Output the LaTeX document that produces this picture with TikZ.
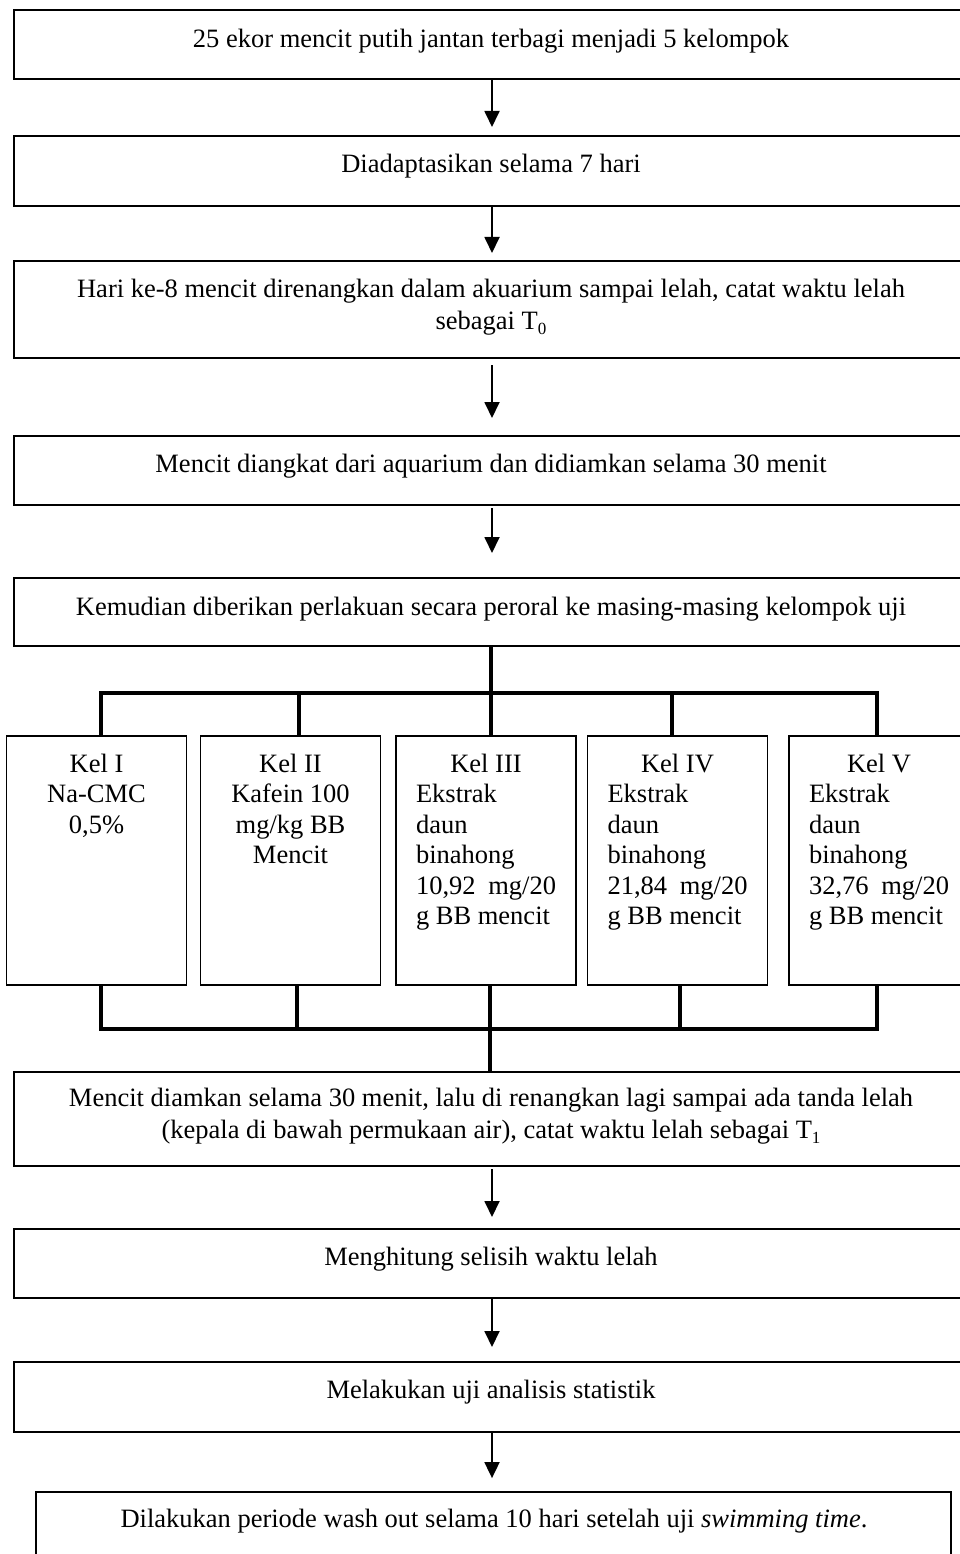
\documentclass[tikz,border=0pt]{standalone}
\usepackage{fontspec}
\setmainfont{Liberation Serif}
\usetikzlibrary{arrows.meta}
\newcommand\kf{\fontsize{26.5}{30.5}\selectfont}
\newcommand\subt[1]{\raisebox{-0.22em}{\fontsize{17}{17}\selectfont #1}}
\begin{document}
\begin{tikzpicture}[x=1pt,y=-1pt,
 mainbox/.style={draw=black, line width=1.8pt, rectangle, inner sep=0pt, outer sep=0pt, minimum width=956pt},
 kelbox/.style={draw=black, line width=1.8pt, rectangle, inner sep=0pt, outer sep=0pt, minimum width=180pt, minimum height=249pt},
 txt/.style={inner sep=0pt, outer sep=0pt, font=\kf, anchor=base},
 keltxt/.style={inner sep=0pt, outer sep=0pt, anchor=base west},
 arr/.style={line width=1.8pt, -{Triangle[width=15pt,length=16pt]}},
 bar/.style={line width=3.3pt, line join=miter}
]
\useasboundingbox (0,0) rectangle (960,1554);
\clip (0,0) rectangle (960,1554);

% main boxes
\node[mainbox, minimum height=69pt] (b1) at (492,44.5) {};
\node[mainbox, minimum height=70pt] (b2) at (492,171) {};
\node[mainbox, minimum height=97pt] (b3) at (492,309.5) {};
\node[mainbox, minimum height=69pt] (b4) at (492,470.5) {};
\node[mainbox, minimum height=68pt] (b5) at (492,612) {};
\node[mainbox, minimum height=94pt] (b6) at (492,1119) {};
\node[mainbox, minimum height=69pt] (b7) at (492,1263.5) {};
\node[mainbox, minimum height=70pt] (b8) at (492,1397) {};
\node[draw=black, line width=1.8pt, rectangle, inner sep=0pt, minimum width=915pt, minimum height=100pt] (b9) at (493.5,1542) {};

% texts
\node[txt] (t1) at (491,48) {25 ekor mencit putih jantan terbagi menjadi 5 kelompok};
\node[txt] (t2) at (491,173) {Diadaptasikan selama 7 hari};
\node[txt] (t3a) at (491,297) {Hari ke-8 mencit direnangkan dalam akuarium sampai lelah, catat waktu lelah};
\node[txt] (t3b) at (491,329) {sebagai T\subt{0}};
\node[txt] (t4) at (491,472) {Mencit diangkat dari aquarium dan didiamkan selama 30 menit};
\node[txt] (t5) at (491,615) {Kemudian diberikan perlakuan secara peroral ke masing-masing kelompok uji};
\node[txt] (t6a) at (491,1106) {Mencit diamkan selama 30 menit, lalu di renangkan lagi sampai ada tanda lelah};
\node[txt] (t6b) at (491,1138) {(kepala di bawah permukaan air), catat waktu lelah sebagai T\subt{1}};
\node[txt] (t7) at (491,1265) {Menghitung selisih waktu lelah};
\node[txt] (t8) at (491,1398) {Melakukan uji analisis statistik};
\node[txt] (t9) at (494,1527) {Dilakukan periode wash out selama 10 hari setelah uji \textit{swimming time}.};

% group boxes
\node[kelbox] (k1) at (96.5,860.5) {};
\node[kelbox] (k2) at (290.5,860.5) {};
\node[kelbox] (k3) at (486,860.5) {};
\node[kelbox] (k4) at (677.5,860.5) {};
\node[kelbox] (k5) at (879,860.5) {};

\node[keltxt] (k1t) at (26.5,772) {\parbox[t]{140pt}{\kf\centering Kel I\\Na-CMC\\0,5\%}};
\node[keltxt] (k2t) at (220.5,772) {\parbox[t]{140pt}{\kf\centering Kel II\\Kafein 100\\mg/kg BB\\Mencit}};
\node[keltxt] (k3t) at (416,772) {\parbox[t]{140pt}{\kf{\centering Kel III\par}\raggedright Ekstrak\\daun\\binahong\\10,92\hfill mg/20\\g BB mencit}};
\node[keltxt] (k4t) at (607.5,772) {\parbox[t]{140pt}{\kf{\centering Kel IV\par}\raggedright Ekstrak\\daun\\binahong\\21,84\hfill mg/20\\g BB mencit}};
\node[keltxt] (k5t) at (809,772) {\parbox[t]{140pt}{\kf{\centering Kel V\par}\raggedright Ekstrak\\daun\\binahong\\32,76\hfill mg/20\\g BB mencit}};

% arrows
\draw[arr] (b1.south) -- ([yshift=9pt]b2.north);
\draw[arr] (b2.south) -- ([yshift=8pt]b3.north);
\draw[arr] ([yshift=-7pt]b3.south) -- ([yshift=18pt]b4.north);
\draw[arr] ([yshift=-3pt]b4.south) -- ([yshift=25pt]b5.north);
\draw[arr] ([yshift=-3pt]b6.south) -- ([yshift=12pt]b7.north);
\draw[arr] (b7.south) -- ([yshift=15pt]b8.north);
\draw[arr] (b8.south) -- ([yshift=13pt]b9.north -| b8.south);

% branching
\coordinate (ta1) at (101,693);
\coordinate (ta2) at (299,693);
\coordinate (ta3) at (491,693);
\coordinate (ta4) at (672,693);
\coordinate (ta5) at (877,693);
\draw[bar] (b5.south -| ta3) -- (ta3);
\draw[bar] (ta1 |- k1.north) -- (ta1) -- (ta5) -- (ta5 |- k5.north);
\draw[bar] (ta2) -- (ta2 |- k2.north);
\draw[bar] (ta3) -- (ta3 |- k3.north);
\draw[bar] (ta4) -- (ta4 |- k4.north);

\coordinate (tb1) at (101,1029);
\coordinate (tb2) at (297,1029);
\coordinate (tb3) at (490,1029);
\coordinate (tb4) at (680,1029);
\coordinate (tb5) at (877,1029);
\draw[bar] (k1.south -| tb1) -- (tb1) -- (tb5) -- (k5.south -| tb5);
\draw[bar] (k2.south -| tb2) -- (tb2);
\draw[bar] (k3.south -| tb3) -- (tb3);
\draw[bar] (k4.south -| tb4) -- (tb4);
\draw[bar] (tb3) -- (tb3 |- b6.north);
\end{tikzpicture}
\end{document}
